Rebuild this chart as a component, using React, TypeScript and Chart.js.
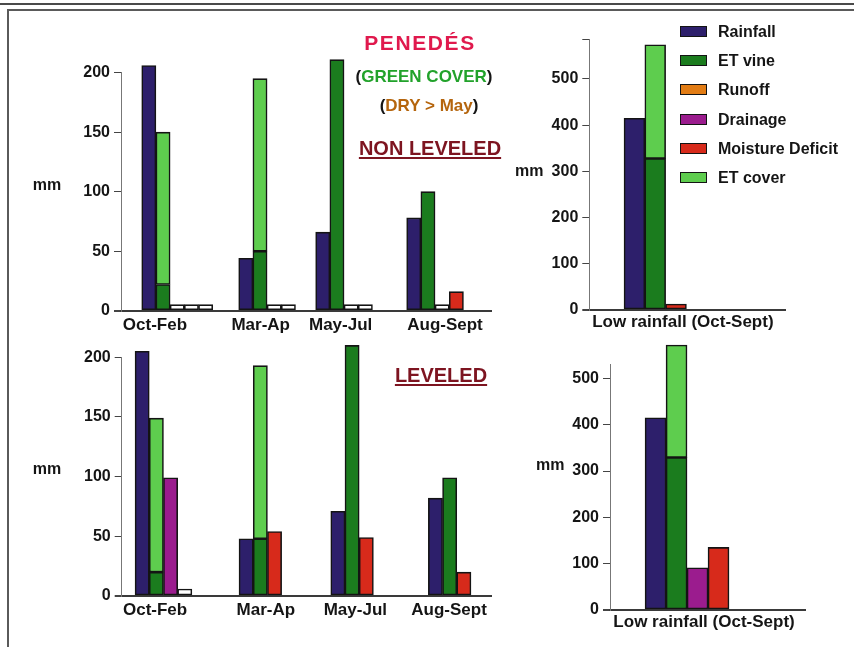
import React, { useEffect, useRef } from 'react';
import { Chart, registerables } from 'chart.js';

Chart.register(...registerables);

const FONT = "'Liberation Sans', Arial, Helvetica, sans-serif";
Chart.defaults.font.family = FONT;

// ---- data (mm) ----
const seasons = ['Oct-Feb', 'Mar-Ap', 'May-Jul', 'Aug-Sept'];
const yearLabel = ['Low rainfall (Oct-Sept)'];

// Non leveled plot, by season
const rainfallNonLeveled = [206, 44, 66, 78];
const etVineNonLeveled = [22, 50, 211, 100];
const etCoverNonLeveled = [128, 145, null, null];
const runoffNonLeveled = [0, 0, 0, 0];
const drainageNonLeveled = [0, 0, 0, null];
const deficitNonLeveled = [0, null, null, 16];

// Leveled plot, by season
const rainfallLeveled = [205, 48, 71, 82];
const etVineLeveled = [20, 48, 210, 99];
const etCoverLeveled = [129, 145, null, null];
const runoffLeveled = [null, null, null, null];
const drainageLeveled = [99, null, null, null];
const deficitLeveled = [0, 54, 49, 20];

// Whole year totals
const rainfallYearNonLeveled = [415];
const etVineYearNonLeveled = [328];
const etCoverYearNonLeveled = [246];
const runoffYearNonLeveled = [null];
const drainageYearNonLeveled = [null];
const deficitYearNonLeveled = [12];

const rainfallYearLeveled = [415];
const etVineYearLeveled = [329];
const etCoverYearLeveled = [243];
const runoffYearLeveled = [null];
const drainageYearLeveled = [91];
const deficitYearLeveled = [135];

const seasonTicks = [0, 50, 100, 150, 200];
const yearTicks = [0, 100, 200, 300, 400, 500];

type Vals = (number | null)[];
type PanelData = {
  rainfall: Vals; etVine: Vals; etCover: Vals; runoff: Vals; drainage: Vals; deficit: Vals;
};

const SERIES = [
  { key: 'rainfall', label: 'Rainfall', color: '#2d1f6b' },
  { key: 'etVine', label: 'ET vine', color: '#1b7c1e' },
  { key: 'runoff', label: 'Runoff', color: '#e27c14' },
  { key: 'drainage', label: 'Drainage', color: '#9b1c8e' },
  { key: 'deficit', label: 'Moisture Deficit', color: '#d72a1b' },
  { key: 'etCover', label: 'ET cover', color: '#5ecd4e' },
] as const;

type Panel = {
  box: { left: number; top: number; width: number; height: number };
  area: { l: number; t: number; r: number; b: number };
  yMax: number;
  yTicks: number[];
  tickMarks: number[];
  xMax: number; // axis length in bar widths
  groupStart: number[]; // bar widths from the axis
  labelPos: number[];
  labels: string[];
  xPad: number;
  zeroBar: number;
  data: PanelData;
};

const panels: Panel[] = [
  {
    box: { left: 10, top: 40, width: 500, height: 310 },
    area: { l: 121, t: 72.7, r: 491, b: 310.7 },
    yMax: 200, yTicks: seasonTicks, tickMarks: seasonTicks,
    xMax: 26.06, groupStart: [1.46, 8.29, 13.71, 20.12], labelPos: [2.39, 9.84, 15.47, 22.82],
    labels: seasons, xPad: 4.8, zeroBar: 6,
    data: {
      rainfall: rainfallNonLeveled, etVine: etVineNonLeveled, etCover: etCoverNonLeveled,
      runoff: runoffNonLeveled, drainage: drainageNonLeveled, deficit: deficitNonLeveled,
    },
  },
  {
    box: { left: 10, top: 330, width: 500, height: 317 },
    area: { l: 121.7, t: 357.3, r: 491, b: 596 },
    yMax: 200, yTicks: seasonTicks, tickMarks: seasonTicks,
    xMax: 26.0, groupStart: [0.94, 8.26, 14.72, 21.59], labelPos: [2.35, 10.15, 16.45, 23.05],
    labels: seasons, xPad: 4.6, zeroBar: 7,
    data: {
      rainfall: rainfallLeveled, etVine: etVineLeveled, etCover: etCoverLeveled,
      runoff: runoffLeveled, drainage: drainageLeveled, deficit: deficitLeveled,
    },
  },
  {
    box: { left: 510, top: 15, width: 344, height: 335 },
    area: { l: 589.3, t: 39.7, r: 785, b: 310 },
    yMax: 585, yTicks: yearTicks, tickMarks: [...yearTicks, 585],
    xMax: 9.41, groupStart: [1.67], labelPos: [4.5],
    labels: yearLabel, xPad: 2.5, zeroBar: 6,
    data: {
      rainfall: rainfallYearNonLeveled, etVine: etVineYearNonLeveled, etCover: etCoverYearNonLeveled,
      runoff: runoffYearNonLeveled, drainage: drainageYearNonLeveled, deficit: deficitYearNonLeveled,
    },
  },
  {
    box: { left: 510, top: 340, width: 344, height: 307 },
    area: { l: 610, t: 364.9, r: 805, b: 610 },
    yMax: 529, yTicks: yearTicks, tickMarks: yearTicks,
    xMax: 9.29, groupStart: [1.67], labelPos: [4.48],
    labels: yearLabel, xPad: 2.0, zeroBar: 6,
    data: {
      rainfall: rainfallYearLeveled, etVine: etVineYearLeveled, etCover: etCoverYearLeveled,
      runoff: runoffYearLeveled, drainage: drainageYearLeveled, deficit: deficitYearLeveled,
    },
  },
];

// Bars of a group sit side by side: rainfall, ET (vine + cover stacked), then
// whichever of runoff / drainage / deficit the season reports. Zero values are
// drawn as short white boxes.
function buildDatasets(p: Panel) {
  const pts: Record<string, { x: number; y: number }[]> = {};
  SERIES.forEach((s) => (pts[s.key] = []));
  const d = p.data as any;
  p.labels.forEach((_, g) => {
    let slot = 0;
    const at = () => p.groupStart[g] + slot + 0.5;
    if (d.rainfall[g] != null) pts.rainfall.push({ x: at(), y: d.rainfall[g] });
    slot++;
    if (d.etVine[g] != null) pts.etVine.push({ x: at(), y: d.etVine[g] });
    if (d.etCover[g] != null) pts.etCover.push({ x: at(), y: d.etCover[g] });
    slot++;
    for (const k of ['runoff', 'drainage', 'deficit']) {
      if (d[k][g] != null) {
        pts[k].push({ x: at(), y: d[k][g] });
        slot++;
      }
    }
  });
  return SERIES.map((s) => {
    const small = s.key === 'runoff' || s.key === 'drainage' || s.key === 'deficit';
    return {
      label: s.label,
      data: pts[s.key],
      backgroundColor: (ctx: any) => (ctx.raw && ctx.raw.y === 0 ? '#ffffff' : s.color),
      borderColor: '#141414',
      borderWidth: 1.6,
      borderSkipped: false as const,
      grouped: false,
      stack: s.key === 'etVine' || s.key === 'etCover' ? 'et' : s.key,
      minBarLength: small ? p.zeroBar : 0,
      barPercentage: 1,
      categoryPercentage: 1,
      clip: false as const,
    };
  });
}

function BarPanel({ panel }: { panel: Panel }) {
  const ref = useRef<HTMLCanvasElement>(null);
  useEffect(() => {
    const { box, area } = panel;
    const chart = new Chart(ref.current as HTMLCanvasElement, {
      type: 'bar',
      data: { datasets: buildDatasets(panel) as any },
      options: {
        animation: false,
        responsive: false,
        devicePixelRatio: 1,
        events: [],
        layout: {
          padding: { left: 0, top: area.t - box.top, right: box.left + box.width - area.r, bottom: 0 },
        },
        plugins: { legend: { display: false }, tooltip: { enabled: false }, title: { display: false } },
        scales: {
          x: {
            type: 'linear',
            min: 0,
            max: panel.xMax,
            offset: false,
            afterFit: (s: any) => {
              s.height = box.top + box.height - area.b;
            },
            afterBuildTicks: (s: any) => {
              s.ticks = panel.labelPos.map((v) => ({ value: v }));
            },
            grid: { display: false, drawTicks: false, offset: false },
            border: { display: true, color: '#3a3a3a', width: 2 },
            ticks: {
              autoSkip: false,
              maxRotation: 0,
              minRotation: 0,
              padding: panel.xPad,
              color: '#151515',
              font: { size: 17, weight: 'bold' },
              callback: (_v: any, i: number) => panel.labels[i],
            },
          },
          y: {
            type: 'linear',
            min: 0,
            max: panel.yMax,
            stacked: true,
            afterFit: (s: any) => {
              s.width = area.l - box.left;
            },
            afterBuildTicks: (s: any) => {
              s.ticks = panel.tickMarks.map((v) => ({ value: v }));
            },
            grid: {
              drawOnChartArea: false,
              drawTicks: true,
              tickLength: 7,
              color: '#444',
              lineWidth: (ctx: any) => (ctx.tick && ctx.tick.value === 0 ? 2 : 1),
            },
            border: { display: true, color: '#777', width: 1 },
            ticks: {
              autoSkip: false,
              padding: 4,
              color: '#151515',
              font: { size: 16, weight: 'bold' },
              callback: (v: any) => (panel.yTicks.includes(Number(v)) ? String(v) : ''),
            },
          },
        },
      },
    });
    return () => chart.destroy();
  }, [panel]);
  const { box } = panel;
  return (
    <canvas
      ref={ref}
      width={box.width}
      height={box.height}
      style={{ position: 'absolute', left: box.left, top: box.top, width: box.width, height: box.height }}
    />
  );
}

function Text(props: {
  x: number; y: number; size: number; color?: string; center?: boolean; children: React.ReactNode; style?: React.CSSProperties;
}) {
  const { x, y, size, color = '#151515', center = true, children, style } = props;
  return (
    <div
      style={{
        position: 'absolute',
        left: x,
        top: y - size / 2,
        fontSize: size,
        lineHeight: `${size}px`,
        fontWeight: 700,
        fontFamily: FONT,
        color,
        whiteSpace: 'nowrap',
        transform: center ? 'translateX(-50%)' : undefined,
        ...style,
      }}
    >
      {children}
    </div>
  );
}

const TITLE_RED = '#e0194d';
const MAROON = '#7d1420';

export default function App() {
  return (
    <div
      style={{
        position: 'fixed', left: 0, top: 0, width: 854, height: 647, overflow: 'hidden', background: '#ffffff',
      }}
    >
      {/* page frame */}
      <div style={{ position: 'absolute', left: 0, top: 3, width: 854, height: 2, background: '#4a4a4a' }} />
      <div
        style={{
          position: 'absolute', left: 7, top: 9, width: 847, height: 638,
          borderLeft: '2px solid #5a5a5a', borderTop: '2px solid #5a5a5a',
        }}
      />

      {panels.map((p, i) => (
        <BarPanel key={i} panel={p} />
      ))}

      {/* axis units */}
      <Text x={32.7} y={185} size={16} center={false}>mm</Text>
      <Text x={32.7} y={469} size={16} center={false}>mm</Text>
      <Text x={515} y={170.5} size={16} center={false}>mm</Text>
      <Text x={536} y={465} size={16} center={false}>mm</Text>

      {/* headings */}
      <Text x={420} y={42.5} size={21} color={TITLE_RED} style={{ letterSpacing: 1.6 }}>PENEDÉS</Text>
      <Text x={424} y={76} size={17}>
        (<span style={{ color: '#22a22b' }}>GREEN COVER</span>)
      </Text>
      <Text x={429} y={105} size={17}>
        (<span style={{ color: '#b5650d' }}>DRY &gt; May</span>)
      </Text>
      <Text
        x={430}
        y={147.5}
        size={20}
        color={MAROON}
        style={{ textDecoration: 'underline', textDecorationThickness: 2, textUnderlineOffset: 2 }}
      >
        NON LEVELED
      </Text>
      <Text
        x={441}
        y={375}
        size={20}
        color={MAROON}
        style={{ textDecoration: 'underline', textDecorationThickness: 2, textUnderlineOffset: 2 }}
      >
        LEVELED
      </Text>

      {/* legend */}
      {SERIES.map((s, i) => {
        const cy = 32 + i * 29.2;
        return (
          <React.Fragment key={s.key}>
            <div
              style={{
                position: 'absolute', left: 680, top: cy - 6, width: 25, height: 9,
                background: s.color, border: '1.5px solid #141414',
              }}
            />
            <Text x={718} y={cy} size={16} center={false}>{s.label}</Text>
          </React.Fragment>
        );
      })}
    </div>
  );
}
